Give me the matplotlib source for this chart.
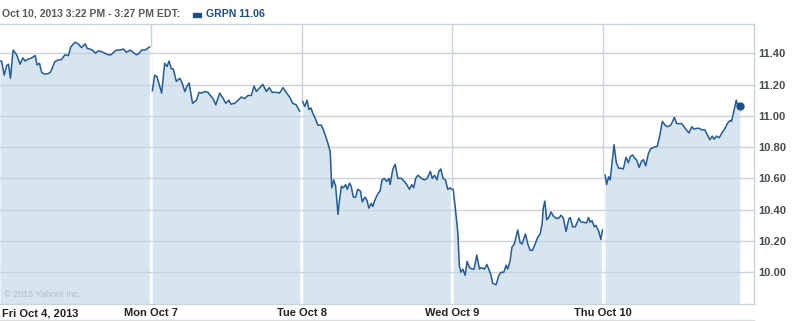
import matplotlib
matplotlib.use("Agg")
import matplotlib.pyplot as plt
import matplotlib.transforms as mtransforms
from matplotlib.lines import Line2D
from matplotlib.patches import Rectangle

# minutes after the 9:30 open, and price, for each session
fri_t = [0, 4, 11, 17, 22, 27, 34, 43, 52, 59, 65, 71, 82, 91, 96, 102, 108, 116, 125, 131,
         142, 151, 159, 168, 177, 183, 194, 202, 211, 220, 226, 232, 239, 247, 254, 263, 271,
         280, 287, 294, 301, 310, 319, 327, 336, 344, 353, 360, 366, 375, 381, 387]
fri_p = [11.35, 11.35, 11.26, 11.32, 11.33, 11.24, 11.42, 11.39, 11.33, 11.37, 11.35, 11.36,
         11.37, 11.385, 11.325, 11.336, 11.276, 11.266, 11.27, 11.28, 11.347, 11.357, 11.36,
         11.39, 11.385, 11.44, 11.47, 11.46, 11.436, 11.46, 11.43, 11.427, 11.42, 11.40,
         11.415, 11.41, 11.40, 11.39, 11.39, 11.406, 11.42, 11.42, 11.427, 11.406, 11.42,
         11.406, 11.39, 11.40, 11.42, 11.42, 11.43, 11.44]

mon_t = [4, 10, 16, 28, 36, 42, 47, 53, 58, 66, 75, 81, 88, 94, 99, 108, 118, 125, 131, 139,
         148, 154, 161, 168, 178, 185, 194, 202, 207, 217, 226, 234, 243, 251, 260, 267, 273,
         282, 290, 299, 306, 314, 325, 333, 342, 350, 359, 367, 376, 385]
mon_p = [11.16, 11.26, 11.25, 11.145, 11.336, 11.315, 11.35, 11.30, 11.30, 11.22, 11.24,
         11.21, 11.155, 11.19, 11.21, 11.08, 11.10, 11.15, 11.145, 11.155, 11.15, 11.13,
         11.11, 11.07, 11.145, 11.12, 11.08, 11.10, 11.074, 11.08, 11.10, 11.12, 11.11, 11.13,
         11.13, 11.19, 11.155, 11.18, 11.20, 11.155, 11.18, 11.15, 11.15, 11.145, 11.18, 11.15,
         11.12, 11.08, 11.07, 11.03]

tue_t = [3, 8, 14, 19, 24, 29, 36, 42, 51, 57, 62, 68, 74, 78, 83, 88, 94, 98, 103, 108, 114,
         118, 124, 128, 134, 140, 145, 152, 157, 164, 169, 174, 180, 184, 191, 197, 203, 208,
         214, 220, 226, 229, 236, 242, 249, 258, 266, 272, 279, 285, 290, 295, 301, 310, 318,
         325, 333, 338, 344, 350, 355, 360, 366, 372, 378, 384, 388]
tue_p = [11.09, 11.06, 11.10, 11.04, 11.05, 11.017, 10.98, 10.94, 10.94, 10.906, 10.87,
         10.825, 10.77, 10.54, 10.59, 10.55, 10.37, 10.46, 10.55, 10.54, 10.56, 10.53, 10.57,
         10.55, 10.48, 10.48, 10.53, 10.52, 10.45, 10.48, 10.46, 10.41, 10.44, 10.42, 10.47,
         10.50, 10.52, 10.59, 10.60, 10.58, 10.60, 10.56, 10.66, 10.69, 10.60, 10.60, 10.58,
         10.56, 10.53, 10.56, 10.54, 10.60, 10.62, 10.60, 10.59, 10.60, 10.645, 10.60, 10.62,
         10.59, 10.645, 10.66, 10.60, 10.59, 10.53, 10.54, 10.53]

wed_t = [2, 8, 14, 18, 22, 27, 33, 38, 44, 51, 56, 63, 70, 75, 83, 89, 94, 100, 104, 113, 120,
         126, 133, 139, 143, 149, 154, 160, 169, 175, 180, 189, 195, 201, 207, 214, 220, 227,
         232, 235, 239, 244, 249, 255, 261, 268, 275, 281, 287, 294, 301, 305, 311, 318, 327,
         333, 339, 347, 352, 356, 361, 367, 371, 378, 384, 388]
wed_p = [10.53, 10.40, 10.255, 10.04, 10.00, 10.02, 9.98, 10.07, 10.03, 10.02, 10.02, 10.11,
         10.02, 10.03, 10.02, 10.05, 10.02, 9.98, 9.93, 9.92, 9.98, 10.00, 10.00, 10.045, 10.02,
         10.07, 10.16, 10.18, 10.27, 10.19, 10.18, 10.245, 10.18, 10.14, 10.14, 10.18, 10.22,
         10.245, 10.31, 10.41, 10.455, 10.335, 10.35, 10.385, 10.36, 10.345, 10.345, 10.365,
         10.345, 10.26, 10.34, 10.35, 10.29, 10.29, 10.345, 10.32, 10.32, 10.315, 10.35, 10.32,
         10.33, 10.29, 10.30, 10.265, 10.21, 10.27]

thu_t = [5, 9, 14, 18, 22, 28, 34, 40, 46, 52, 59, 65, 70, 76, 81, 86, 93, 99, 104, 110, 117,
         123, 132, 140, 146, 153, 160, 166, 175, 184, 190, 196, 203, 209, 215, 222, 229, 235,
         241, 248, 255, 263, 269, 276, 282, 287, 293, 300, 307, 315, 321, 328, 332, 338, 344,
         349, 353]
thu_p = [10.62, 10.56, 10.61, 10.59, 10.68, 10.815, 10.70, 10.665, 10.665, 10.66, 10.735,
         10.70, 10.74, 10.75, 10.73, 10.72, 10.67, 10.71, 10.72, 10.68, 10.76, 10.79, 10.80,
         10.805, 10.87, 10.965, 10.94, 10.93, 10.94, 10.99, 10.95, 10.95, 10.95, 10.93, 10.91,
         10.89, 10.93, 10.915, 10.92, 10.92, 10.91, 10.91, 10.88, 10.847, 10.87, 10.85, 10.87,
         10.86, 10.89, 10.92, 10.95, 10.97, 10.965, 11.03, 11.10, 11.06, 11.06]

day_labels = ["Fri Oct 4, 2013", "Mon Oct 7", "Tue Oct 8", "Wed Oct 9", "Thu Oct 10"]
y_ticks = [10.00, 10.20, 10.40, 10.60, 10.80, 11.00, 11.20, 11.40]
header = "Oct 10, 2013 3:22 PM - 3:27 PM EDT:"
legend_text = "GRPN 11.06"
session_len = 390

line_col = "#245b96"
fill_col = "#d6e5f0"
grid_col = "#c7d4de"
text_col = "#4a4a4a"

plt.rcParams["font.family"] = ["Liberation Sans", "DejaVu Sans"]

fig = plt.figure(figsize=(7.92, 3.21), dpi=100)
ax = fig.add_axes([0, 17 / 321, 754 / 792, (304 - 23.5) / 321])

days = [(fri_t, fri_p), (mon_t, mon_p), (tue_t, tue_p), (wed_t, wed_p), (thu_t, thu_p)]
ymin, ymax = 9.797, 11.59

for i, (t, p) in enumerate(days):
    x = [i * session_len + v for v in t]
    ax.fill_between(x, p, ymin, color=fill_col, lw=0, zorder=1)
    ax.plot(x, p, color=line_col, lw=1.1, zorder=3)

# day separators: grey on white, white through the fill
for i in range(1, len(days)):
    xb = i * session_len
    ax.axvline(xb, color=grid_col, lw=1.0, zorder=0.5)
    h = max(days[i - 1][1][-1], days[i][1][0])
    ax.vlines(xb, ymin, h, color="white", lw=1.6, zorder=1.2)

for yv in y_ticks:
    ax.axhline(yv, color=grid_col, lw=1.0, zorder=1.5)

last_x = 4 * session_len + thu_t[-1]
ax.plot([last_x], [thu_p[-1]], "o", color="#1c4f8a", ms=5, zorder=4)

ax.set_xlim(0, 5 * session_len)
ax.set_ylim(ymin, ymax)

ax.yaxis.tick_right()
ax.set_yticks(y_ticks)
ax.set_yticklabels([f"{v:.2f}" for v in y_ticks], fontsize=8, fontweight="bold",
                   color=text_col)
ax.tick_params(axis="y", length=0, pad=3)

ax.set_xticks([i * session_len for i in range(len(days))])
ax.set_xticklabels(day_labels, fontsize=8, fontweight="bold", color="#222222")
ax.tick_params(axis="x", length=0, pad=3)
first = ax.get_xticklabels()[0]
first.set_horizontalalignment("left")
first.set_transform(first.get_transform() +
                    mtransforms.ScaledTranslation(2 / 100, 0, fig.dpi_scale_trans))

ax.spines["left"].set_visible(False)
for s in ["top", "right", "bottom"]:
    ax.spines[s].set_color(grid_col)
    ax.spines[s].set_linewidth(1.0)

ax.text(0.005, 0.025, "© 2013 Yahoo! Inc.", transform=ax.transAxes, fontsize=6.5,
        color="#b4bcc4")

# bottom rule under the date labels
fig.add_artist(Line2D([0, 754 / 792], [1.2 / 321, 1.2 / 321], color="#dcdcdc", lw=1.0))

fig.text(2 / 792, 1 - 14 / 321, header, fontsize=7.6, fontweight="bold", color="#5a5a5a",
         va="center", ha="left")
fig.add_artist(Rectangle((193 / 792, 1 - 16.5 / 321), 8 / 792, 4 / 321, color="#1c4f8a",
                         transform=fig.transFigure))
fig.text(206 / 792, 1 - 14 / 321, legend_text, fontsize=7.6, fontweight="bold", color="#1c4f8a",
         va="center", ha="left")

fig.savefig("out.png", dpi=100)
